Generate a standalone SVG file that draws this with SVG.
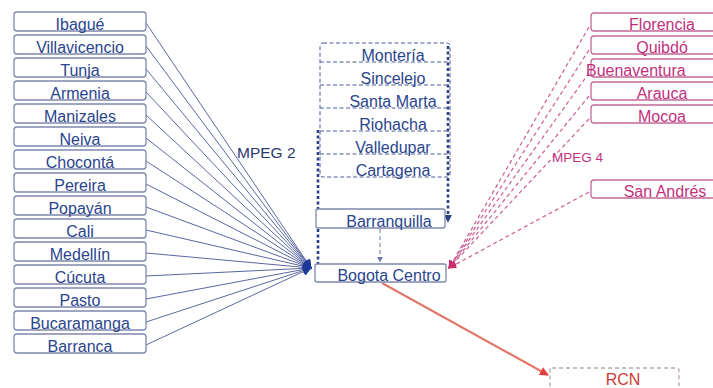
<svg xmlns="http://www.w3.org/2000/svg" width="713" height="388" viewBox="0 0 713 388">
<defs>
<style>
.t{font-family:"Liberation Sans",Arial,sans-serif;font-size:16px;text-anchor:middle}
.bl{fill:#2a448e}
.pk{fill:#c2307e}
.bx{fill:#fff;stroke:#7d88ac;stroke-width:1.3}
.pbx{fill:#fff;stroke:#c46a98;stroke-width:1.3}
.bline{stroke:#5b67a0;stroke-width:1;fill:none}
.pline{stroke:#cc5e96;stroke-width:1.2;stroke-dasharray:4 3;fill:none}
.cdash{stroke:#4a5a9a;stroke-width:1;stroke-dasharray:4 2.5;fill:none}
.thick{stroke:#2a3f86;stroke-width:2.6;stroke-dasharray:3 2.5;fill:none}
</style>
<marker id="ab" viewBox="0 0 10 10" refX="9" refY="5" markerWidth="9" markerHeight="9" markerUnits="userSpaceOnUse" orient="auto"><path d="M0,0L10,5L0,10z" fill="#1c3a9a"/></marker>
<marker id="ap" viewBox="0 0 10 10" refX="9" refY="5" markerWidth="8" markerHeight="8" markerUnits="userSpaceOnUse" orient="auto"><path d="M0,0L10,5L0,10z" fill="#c8306e"/></marker>
<marker id="ar" viewBox="0 0 10 10" refX="9" refY="5" markerWidth="9" markerHeight="9" markerUnits="userSpaceOnUse" orient="auto"><path d="M0,0L10,5L0,10z" fill="#e0403a"/></marker>
<marker id="ag" viewBox="0 0 10 10" refX="9" refY="5" markerWidth="6" markerHeight="6" markerUnits="userSpaceOnUse" orient="auto"><path d="M0,0L10,5L0,10z" fill="#6a78aa"/></marker>
<marker id="at" viewBox="0 0 10 10" refX="9" refY="5" markerWidth="8" markerHeight="8" markerUnits="userSpaceOnUse" orient="auto"><path d="M0,0L10,5L0,10z" fill="#2a3f86"/></marker>
</defs>
<rect width="713" height="388" fill="#fff"/>

<g id="connectors">
<g>
<line class="bline" x1="146" y1="23" x2="311" y2="268" marker-end="url(#ab)"/>
<line class="bline" x1="146" y1="46" x2="311" y2="268" marker-end="url(#ab)"/>
<line class="bline" x1="146" y1="69" x2="311" y2="268" marker-end="url(#ab)"/>
<line class="bline" x1="146" y1="92" x2="311" y2="268" marker-end="url(#ab)"/>
<line class="bline" x1="146" y1="115" x2="311" y2="268" marker-end="url(#ab)"/>
<line class="bline" x1="146" y1="138" x2="311" y2="268" marker-end="url(#ab)"/>
<line class="bline" x1="146" y1="161" x2="311" y2="268" marker-end="url(#ab)"/>
<line class="bline" x1="146" y1="184" x2="311" y2="268" marker-end="url(#ab)"/>
<line class="bline" x1="146" y1="207" x2="311" y2="268" marker-end="url(#ab)"/>
<line class="bline" x1="146" y1="230" x2="311" y2="268" marker-end="url(#ab)"/>
<line class="bline" x1="146" y1="253" x2="311" y2="268" marker-end="url(#ab)"/>
<line class="bline" x1="146" y1="276" x2="311" y2="268" marker-end="url(#ab)"/>
<line class="bline" x1="146" y1="299" x2="311" y2="268" marker-end="url(#ab)"/>
<line class="bline" x1="146" y1="322" x2="311" y2="268" marker-end="url(#ab)"/>
<line class="bline" x1="146" y1="345" x2="311" y2="268" marker-end="url(#ab)"/>
</g>
<g>
<line class="pline" x1="589" y1="27" x2="449" y2="268" marker-end="url(#ap)"/>
<line class="pline" x1="589" y1="50" x2="449" y2="268" marker-end="url(#ap)"/>
<line class="pline" x1="589" y1="73" x2="449" y2="268" marker-end="url(#ap)"/>
<line class="pline" x1="589" y1="96" x2="449" y2="268" marker-end="url(#ap)"/>
<line class="pline" x1="589" y1="119" x2="449" y2="268" marker-end="url(#ap)"/>
<line class="pline" x1="589" y1="192" x2="449" y2="268" stroke="#b06c92" marker-end="url(#ap)"/>
</g>
<line x1="380" y1="229" x2="380" y2="262" stroke="#8a96c0" stroke-width="1.3" stroke-dasharray="4 3" marker-end="url(#ag)"/>
<line x1="382" y1="283" x2="548" y2="375" stroke="#e2786a" stroke-width="2.2" marker-end="url(#ar)"/>
<line class="thick" x1="318" y1="130" x2="318" y2="264"/>
<line class="thick" x1="448" y1="46" x2="448" y2="222" marker-end="url(#at)"/>
</g>

<g id="left-nodes">
<g id="n-ibague"><rect class="bx" x="14" y="12" width="132" height="19" rx="3"/><text class="t bl" x="80" y="30">Ibagué</text></g>
<g id="n-villavicencio"><rect class="bx" x="14" y="35" width="132" height="19" rx="3"/><text class="t bl" x="80" y="53">Villavicencio</text></g>
<g id="n-tunja"><rect class="bx" x="14" y="58" width="132" height="19" rx="3"/><text class="t bl" x="80" y="76">Tunja</text></g>
<g id="n-armenia"><rect class="bx" x="14" y="81" width="132" height="19" rx="3"/><text class="t bl" x="80" y="99">Armenia</text></g>
<g id="n-manizales"><rect class="bx" x="14" y="104" width="132" height="19" rx="3"/><text class="t bl" x="80" y="122">Manizales</text></g>
<g id="n-neiva"><rect class="bx" x="14" y="127" width="132" height="19" rx="3"/><text class="t bl" x="80" y="145">Neiva</text></g>
<g id="n-choconta"><rect class="bx" x="14" y="150" width="132" height="19" rx="3"/><text class="t bl" x="80" y="168">Chocontá</text></g>
<g id="n-pereira"><rect class="bx" x="14" y="173" width="132" height="19" rx="3"/><text class="t bl" x="80" y="191">Pereira</text></g>
<g id="n-popayan"><rect class="bx" x="14" y="196" width="132" height="19" rx="3"/><text class="t bl" x="80" y="214">Popayán</text></g>
<g id="n-cali"><rect class="bx" x="14" y="219" width="132" height="19" rx="3"/><text class="t bl" x="80" y="237">Cali</text></g>
<g id="n-medellin"><rect class="bx" x="14" y="242" width="132" height="19" rx="3"/><text class="t bl" x="80" y="260">Medellín</text></g>
<g id="n-cucuta"><rect class="bx" x="14" y="265" width="132" height="19" rx="3"/><text class="t bl" x="80" y="283">Cúcuta</text></g>
<g id="n-pasto"><rect class="bx" x="14" y="288" width="132" height="19" rx="3"/><text class="t bl" x="80" y="306">Pasto</text></g>
<g id="n-bucaramanga"><rect class="bx" x="14" y="311" width="132" height="19" rx="3"/><text class="t bl" x="80" y="329">Bucaramanga</text></g>
<g id="n-barranca"><rect class="bx" x="14" y="334" width="132" height="19" rx="3"/><text class="t bl" x="80" y="352">Barranca</text></g>
</g>

<g id="center-group">
<rect class="cdash" x="320" y="43" width="130" height="134" rx="3"/>
<line class="cdash" x1="320" y1="62" x2="450" y2="62"/>
<line class="cdash" x1="320" y1="85" x2="450" y2="85"/>
<line class="cdash" x1="320" y1="108" x2="450" y2="108"/>
<line class="cdash" x1="320" y1="131" x2="450" y2="131"/>
<line class="cdash" x1="320" y1="154" x2="450" y2="154"/>
<g id="n-monteria"><text class="t bl" x="393" y="61">Montería</text></g>
<g id="n-sincelejo"><text class="t bl" x="393" y="84">Sincelejo</text></g>
<g id="n-santamarta"><text class="t bl" x="393" y="107">Santa Marta</text></g>
<g id="n-riohacha"><text class="t bl" x="393" y="130">Riohacha</text></g>
<g id="n-valledupar"><text class="t bl" x="393" y="153">Valledupar</text></g>
<g id="n-cartagena"><text class="t bl" x="393" y="176">Cartagena</text></g>
</g>

<g id="n-barranquilla"><rect class="bx" x="316" y="209" width="129" height="19" rx="2"/><text class="t bl" x="389" y="227">Barranquilla</text></g>
<g id="n-bogota"><rect class="bx" x="315" y="264" width="131" height="18" rx="2"/><text class="t bl" x="389" y="281">Bogota Centro</text></g>

<g id="right-nodes">
<g id="n-florencia"><rect class="pbx" x="591" y="13" width="145" height="18" rx="3"/><text class="t pk" x="662" y="30">Florencia</text></g>
<g id="n-quibdo"><rect class="pbx" x="591" y="36" width="145" height="18" rx="3"/><text class="t pk" x="662" y="53">Quibdó</text></g>
<g id="n-buenaventura"><rect class="pbx" x="591" y="59" width="145" height="18" rx="3"/><text class="t pk" x="586" y="76" style="text-anchor:start">Buenaventura</text></g>
<g id="n-arauca"><rect class="pbx" x="591" y="82" width="145" height="18" rx="3"/><text class="t pk" x="662" y="99">Arauca</text></g>
<g id="n-mocoa"><rect class="pbx" x="591" y="105" width="145" height="18" rx="3"/><text class="t pk" x="662" y="122">Mocoa</text></g>
<g id="n-sanandres"><rect class="pbx" x="591" y="180" width="145" height="18" rx="3"/><text class="t pk" x="665" y="197">San Andrés</text></g>
</g>

<g id="n-rcn"><rect x="550" y="368" width="129" height="30" rx="2" fill="#fff" stroke="#b8a8a8" stroke-width="1.3" stroke-dasharray="4 3"/><text class="t" x="623" y="385" fill="#c83a36">RCN</text></g>

<text x="237" y="158" font-family="'Liberation Sans',Arial,sans-serif" font-size="15.5px" fill="#2a3a6e">MPEG 2</text>
<text x="552" y="162" font-family="'Liberation Sans',Arial,sans-serif" font-size="13.5px" fill="#c2307e">MPEG 4</text>
</svg>
